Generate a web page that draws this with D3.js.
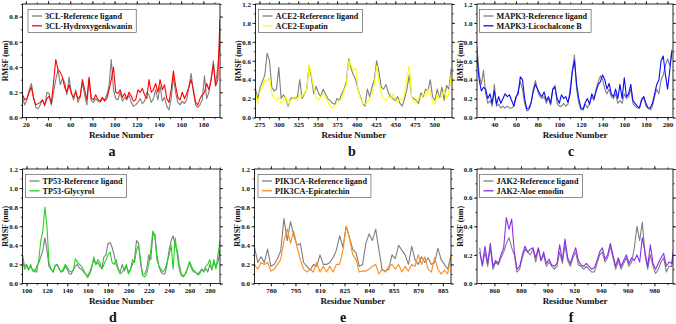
<!DOCTYPE html>
<html>
<head>
<meta charset="utf-8">
<script src="https://cdn.jsdelivr.net/npm/d3@7"></script>
<style>
body { margin: 0; background: #fff; }
svg text { font-family: "Liberation Serif", "Times New Roman", serif; font-weight: bold; fill: #111; }
</style>
</head>
<body>
<svg id="chart" width="676" height="324"></svg>
<script>
//Residue numbering (start, step) and RMSF values

// a - 3CL
const resA = d3.range(17, 196, 2);
const refA = [0.16,0.10,0.14,0.22,0.27,0.16,0.08,0.07,0.10,0.14,
  0.09,0.20,0.19,0.10,0.20,0.30,0.38,0.26,0.31,0.28,
  0.18,0.32,0.20,0.14,0.22,0.12,0.16,0.28,0.18,0.10,
  0.30,0.13,0.12,0.15,0.13,0.12,0.15,0.14,0.18,0.25,
  0.46,0.22,0.15,0.14,0.20,0.13,0.16,0.14,0.18,0.12,
  0.09,0.10,0.12,0.15,0.11,0.13,0.20,0.18,0.12,0.15,
  0.22,0.14,0.25,0.13,0.16,0.09,0.06,0.15,0.32,0.20,
  0.12,0.10,0.13,0.11,0.14,0.25,0.35,0.20,0.10,0.08,
  0.10,0.14,0.33,0.15,0.20,0.30,0.45,0.26,0.40,0.60];
const ligA = [0.18,0.14,0.15,0.20,0.24,0.15,0.10,0.11,0.12,0.14,
  0.10,0.15,0.17,0.11,0.28,0.46,0.38,0.36,0.32,0.24,
  0.20,0.26,0.19,0.16,0.20,0.15,0.17,0.30,0.22,0.14,
  0.32,0.15,0.14,0.18,0.14,0.13,0.16,0.13,0.15,0.22,
  0.30,0.40,0.20,0.19,0.22,0.16,0.19,0.15,0.20,0.17,
  0.13,0.14,0.22,0.20,0.23,0.18,0.15,0.30,0.20,0.22,
  0.27,0.20,0.30,0.22,0.26,0.15,0.12,0.22,0.37,0.25,
  0.16,0.14,0.20,0.15,0.19,0.24,0.30,0.22,0.12,0.10,
  0.15,0.18,0.20,0.27,0.22,0.30,0.42,0.25,0.30,0.78];
const namesA = ["3CL-Reference ligand", "3CL-Hydroxygenkwanin"];
const xTicksA = [20,40,60,80,100,120,140,160,180];

// b - ACE2
const resB = d3.range(270, 523, 3);
const refB = [0.30,0.20,0.32,0.38,0.45,0.68,0.60,0.32,0.28,0.30,
  0.53,0.20,0.24,0.20,0.12,0.20,0.21,0.20,0.22,0.40,
  0.20,0.25,0.30,0.55,0.42,0.25,0.33,0.26,0.22,0.30,
  0.25,0.20,0.18,0.15,0.14,0.20,0.18,0.25,0.30,0.38,
  0.62,0.52,0.45,0.40,0.30,0.22,0.15,0.12,0.30,0.22,
  0.32,0.40,0.60,0.48,0.32,0.30,0.35,0.26,0.22,0.20,
  0.18,0.22,0.15,0.12,0.20,0.30,0.45,0.22,0.20,0.18,
  0.15,0.26,0.22,0.30,0.28,0.40,0.22,0.18,0.30,0.20,
  0.32,0.18,0.34,0.30,0.52];
const ligB = [0.25,0.15,0.28,0.32,0.40,0.38,0.42,0.25,0.20,0.18,
  0.22,0.15,0.18,0.22,0.14,0.18,0.20,0.22,0.18,0.25,
  0.22,0.26,0.30,0.56,0.45,0.30,0.22,0.18,0.22,0.25,
  0.20,0.17,0.12,0.10,0.12,0.15,0.18,0.20,0.28,0.35,
  0.60,0.55,0.50,0.52,0.30,0.20,0.15,0.14,0.16,0.20,
  0.25,0.35,0.55,0.38,0.25,0.20,0.18,0.22,0.20,0.25,
  0.20,0.16,0.20,0.18,0.25,0.42,0.55,0.22,0.16,0.15,
  0.22,0.20,0.25,0.22,0.30,0.28,0.16,0.14,0.25,0.20,
  0.22,0.30,0.20,0.25,0.45];
const namesB = ["ACE2-Reference ligand", "ACE2-Eupatin"];
const xTicksB = [275,300,325,350,375,400,425,450,475,500];

// c - MAPK3
const resC = d3.range(24, 205, 2);
const refC = [0.75,0.45,0.35,0.50,0.25,0.15,0.18,0.12,0.35,0.12,
  0.14,0.10,0.12,0.10,0.12,0.10,0.10,0.12,0.20,0.28,
  0.38,0.30,0.15,0.07,0.08,0.15,0.30,0.39,0.28,0.22,
  0.20,0.22,0.15,0.20,0.13,0.30,0.34,0.15,0.12,0.12,
  0.15,0.12,0.14,0.30,0.50,0.66,0.30,0.15,0.08,0.08,
  0.14,0.10,0.15,0.22,0.18,0.30,0.38,0.44,0.40,0.30,
  0.25,0.30,0.22,0.20,0.25,0.15,0.18,0.15,0.25,0.20,
  0.22,0.30,0.15,0.12,0.10,0.10,0.20,0.22,0.12,0.10,
  0.08,0.12,0.22,0.30,0.25,0.40,0.45,0.55,0.62,0.55,
  0.72];
const ligC = [0.65,0.40,0.28,0.32,0.30,0.20,0.25,0.15,0.28,0.14,
  0.22,0.15,0.20,0.25,0.22,0.24,0.18,0.12,0.22,0.25,
  0.43,0.40,0.20,0.09,0.10,0.16,0.28,0.35,0.30,0.25,
  0.22,0.27,0.18,0.22,0.15,0.30,0.32,0.20,0.15,0.24,
  0.20,0.22,0.16,0.25,0.48,0.60,0.35,0.20,0.10,0.09,
  0.16,0.20,0.14,0.25,0.20,0.28,0.35,0.38,0.45,0.40,
  0.30,0.36,0.25,0.22,0.30,0.20,0.35,0.20,0.42,0.22,
  0.25,0.35,0.18,0.15,0.12,0.10,0.18,0.22,0.15,0.10,
  0.10,0.15,0.25,0.35,0.40,0.60,0.65,0.45,0.30,0.50,
  0.70];
const namesC = ["MAPK3-Reference ligand", "MAPK3-Licochalcone B"];
const xTicksC = [40,60,80,100,120,140,160,180,200];

// d - TP53
const resD = d3.range(96, 291, 2);
const refD = [0.30,0.18,0.20,0.15,0.18,0.14,0.12,0.18,0.22,0.28,
  0.35,0.48,0.35,0.18,0.15,0.12,0.18,0.20,0.16,0.12,
  0.13,0.18,0.15,0.10,0.10,0.15,0.18,0.20,0.16,0.15,
  0.12,0.10,0.08,0.12,0.18,0.25,0.20,0.22,0.18,0.16,
  0.28,0.30,0.42,0.43,0.38,0.30,0.20,0.15,0.12,0.20,
  0.13,0.18,0.12,0.15,0.20,0.25,0.45,0.42,0.20,0.10,
  0.10,0.15,0.30,0.25,0.50,0.52,0.30,0.18,0.12,0.10,
  0.10,0.20,0.35,0.45,0.50,0.40,0.35,0.20,0.10,0.08,
  0.10,0.15,0.22,0.16,0.12,0.12,0.10,0.12,0.15,0.12,
  0.16,0.12,0.20,0.15,0.22,0.18,0.22,0.35];
const ligD = [0.25,0.15,0.18,0.14,0.20,0.13,0.15,0.12,0.25,0.45,
  0.55,0.80,0.60,0.22,0.15,0.12,0.19,0.20,0.15,0.12,
  0.15,0.20,0.17,0.13,0.12,0.14,0.26,0.22,0.20,0.18,
  0.14,0.10,0.06,0.10,0.16,0.28,0.20,0.25,0.22,0.15,
  0.20,0.25,0.30,0.33,0.22,0.20,0.25,0.15,0.10,0.12,
  0.15,0.20,0.10,0.14,0.25,0.22,0.35,0.40,0.25,0.08,
  0.07,0.10,0.20,0.35,0.55,0.50,0.25,0.18,0.15,0.12,
  0.15,0.22,0.30,0.40,0.15,0.48,0.30,0.15,0.08,0.07,
  0.10,0.16,0.23,0.18,0.14,0.12,0.09,0.10,0.15,0.13,
  0.18,0.20,0.25,0.14,0.25,0.15,0.30,0.45];
const namesD = ["TP53-Reference ligand", "TP53-Glycyrol"];
const xTicksD = [100,120,140,160,180,200,220,240,260,280];

// e - PIK3CA
const resE = d3.range(770, 891, 2);
const refE = [0.38,0.22,0.28,0.22,0.36,0.18,0.20,0.26,0.34,0.68,
  0.45,0.65,0.50,0.40,0.42,0.22,0.18,0.14,0.20,0.18,
  0.30,0.20,0.20,0.22,0.27,0.35,0.50,0.38,0.60,0.48,
  0.36,0.32,0.18,0.20,0.42,0.52,0.45,0.57,0.35,0.14,
  0.13,0.15,0.30,0.26,0.40,0.35,0.30,0.20,0.39,0.25,
  0.20,0.28,0.22,0.27,0.20,0.22,0.37,0.25,0.20,0.15,
  0.30];
const ligE = [0.20,0.15,0.22,0.20,0.22,0.13,0.15,0.20,0.25,0.45,
  0.57,0.42,0.55,0.38,0.25,0.15,0.12,0.15,0.12,0.22,
  0.12,0.18,0.12,0.18,0.12,0.20,0.20,0.35,0.60,0.48,
  0.30,0.25,0.12,0.13,0.13,0.15,0.18,0.20,0.10,0.15,
  0.12,0.18,0.20,0.15,0.20,0.12,0.18,0.13,0.20,0.18,
  0.30,0.20,0.28,0.15,0.12,0.27,0.15,0.10,0.14,0.10,
  0.30];
const namesE = ["PIK3CA-Reference ligand", "PIK3CA-Epicatechin"];
const xTicksE = [780,795,810,825,840,855,870,885];

// f - JAK2
const resF = d3.range(849, 996, 2);
const refF = [0.25,0.12,0.22,0.12,0.25,0.10,0.15,0.13,0.18,0.22,
  0.28,0.32,0.25,0.20,0.08,0.10,0.18,0.24,0.22,0.20,
  0.24,0.15,0.24,0.16,0.20,0.12,0.15,0.12,0.10,0.12,
  0.22,0.14,0.27,0.16,0.12,0.18,0.22,0.13,0.12,0.10,
  0.12,0.10,0.08,0.08,0.14,0.20,0.22,0.15,0.18,0.26,
  0.18,0.10,0.16,0.10,0.14,0.18,0.12,0.15,0.25,0.40,
  0.30,0.43,0.20,0.10,0.20,0.12,0.07,0.10,0.15,0.18,
  0.08,0.12,0.12,0.25];
const ligF = [0.22,0.13,0.26,0.14,0.28,0.12,0.16,0.14,0.20,0.25,
  0.46,0.38,0.45,0.22,0.10,0.12,0.20,0.26,0.22,0.24,
  0.25,0.18,0.25,0.16,0.22,0.14,0.17,0.13,0.12,0.14,
  0.27,0.16,0.31,0.18,0.14,0.20,0.25,0.16,0.13,0.12,
  0.14,0.12,0.10,0.11,0.16,0.22,0.25,0.17,0.20,0.28,
  0.20,0.12,0.18,0.12,0.16,0.20,0.14,0.18,0.16,0.20,
  0.15,0.32,0.22,0.12,0.27,0.14,0.10,0.14,0.18,0.21,
  0.12,0.15,0.14,0.28];
const namesF = ["JAK2-Reference ligand", "JAK2-Aloe emodin"];
const xTicksF = [860,880,900,920,940,960,980];

const yTicks12 = [0,0.2,0.4,0.6,0.8,1.0,1.2];
const yTicks08 = [0,0.2,0.4,0.6,0.8];

//Panel layout

const panels = [
  {letter:"a", frame:[22.5,4,220,117.5], xDomain:[17,195], yDomain:[0,0.9], xTicks:xTicksA, yTicks:yTicks08,
   res:resA, ref:refA, lig:ligA, names:namesA, color:"#ff0000", legend:[28,9.5], letterX:112},
  {letter:"b", frame:[255.5,4,452,117.5], xDomain:[270,523], yDomain:[0,1.2], xTicks:xTicksB, yTicks:yTicks12,
   res:resB, ref:refB, lig:ligB, names:namesB, color:"#ffff00", legend:[258.5,9.5], letterX:352},
  {letter:"c", frame:[477,4,673,117.5], xDomain:[24,205], yDomain:[0,1.2], xTicks:xTicksC, yTicks:yTicks12,
   res:resC, ref:refC, lig:ligC, names:namesC, color:"#0a0aff", legend:[479.5,9.5], letterX:571},
  {letter:"d", frame:[22.5,169,220,283.5], xDomain:[96,290], yDomain:[0,1.2], xTicks:xTicksD, yTicks:yTicks12,
   res:resD, ref:refD, lig:ligD, names:namesD, color:"#22d422", legend:[25.5,174.5], letterX:113},
  {letter:"e", frame:[254.5,169,451,283.5], xDomain:[770,890], yDomain:[0,1.2], xTicks:xTicksE, yTicks:yTicks12,
   res:resE, ref:refE, lig:ligE, names:namesE, color:"#ff8c1a", legend:[258,174.5], letterX:343},
  {letter:"f", frame:[477,169,673,283.5], xDomain:[847,994], yDomain:[0,0.8], xTicks:xTicksF, yTicks:yTicks08,
   res:resF, ref:refF, lig:ligF, names:namesF, color:"#8c2cf2", legend:[479.5,174.5], letterX:571}
];

const svg = d3.select("#chart");
const refColor = "#7f7f7f";

function styleAxis(sel, size) {
  sel.select(".domain").remove();
  sel.selectAll("line").attr("stroke", "#111").attr("stroke-width", 0.8);
  sel.selectAll("text")
    .attr("font-family", "Liberation Serif, Times New Roman, serif")
    .attr("font-weight", "bold")
    .attr("font-size", size)
    .attr("fill", "#111");
}

function plotPanel(p) {
  const [x0, y0, x1, y1] = p.frame;
  const g = svg.append("g");

  const x = d3.scaleLinear().domain(p.xDomain).range([x0, x1]);
  const y = d3.scaleLinear().domain(p.yDomain).range([y1, y0]);

  const clipId = "clip-" + p.letter;
  svg.append("clipPath").attr("id", clipId)
    .append("rect").attr("x", x0).attr("y", y0).attr("width", x1 - x0).attr("height", y1 - y0);

  //minor tick positions, half the major spacing
  const xHalf = (p.xTicks[1] - p.xTicks[0]) / 2;
  const xMinor = d3.range(Math.ceil(p.xDomain[0] / xHalf) * xHalf, p.xDomain[1] + 0.001, xHalf);
  const yMinor = d3.range(0, p.yDomain[1] + 0.001, 0.1);

  //bottom
  g.append("g").attr("transform", `translate(0,${y1})`)
    .call(d3.axisBottom(x).tickValues(xMinor).tickSize(1.6).tickFormat(""))
    .call(s => styleAxis(s, 7));
  g.append("g").attr("transform", `translate(0,${y1})`)
    .call(d3.axisBottom(x).tickValues(p.xTicks).tickSize(3).tickPadding(2).tickFormat(d3.format("d")))
    .call(s => styleAxis(s, 7));

  //top
  g.append("g").attr("transform", `translate(0,${y0})`)
    .call(d3.axisTop(x).tickValues(xMinor).tickSize(1.6).tickFormat(""))
    .call(s => styleAxis(s, 7));
  g.append("g").attr("transform", `translate(0,${y0})`)
    .call(d3.axisTop(x).tickValues(p.xTicks).tickSize(3).tickFormat(""))
    .call(s => styleAxis(s, 7));

  //left
  g.append("g").attr("transform", `translate(${x0},0)`)
    .call(d3.axisLeft(y).tickValues(yMinor).tickSize(1.6).tickFormat(""))
    .call(s => styleAxis(s, 7));
  g.append("g").attr("transform", `translate(${x0},0)`)
    .call(d3.axisLeft(y).tickValues(p.yTicks).tickSize(3).tickPadding(1.5).tickFormat(d3.format(".1f")))
    .call(s => styleAxis(s, 7));

  //right
  g.append("g").attr("transform", `translate(${x1},0)`)
    .call(d3.axisRight(y).tickValues(yMinor).tickSize(1.6).tickFormat(""))
    .call(s => styleAxis(s, 7));
  g.append("g").attr("transform", `translate(${x1},0)`)
    .call(d3.axisRight(y).tickValues(p.yTicks).tickSize(3).tickFormat(""))
    .call(s => styleAxis(s, 7));

  //lines
  const line = d3.line().x(d => x(d[0])).y(d => y(d[1]));
  const plot = g.append("g").attr("clip-path", `url(#${clipId})`);
  plot.append("path")
    .datum(d3.zip(p.res, p.ref))
    .attr("fill", "none").attr("stroke", refColor).attr("stroke-width", 1.1)
    .attr("stroke-linejoin", "round")
    .attr("d", line);
  plot.append("path")
    .datum(d3.zip(p.res, p.lig))
    .attr("fill", "none").attr("stroke", p.color).attr("stroke-width", 1.1)
    .attr("stroke-linejoin", "round")
    .attr("d", line);

  //frame
  g.append("rect")
    .attr("x", x0).attr("y", y0).attr("width", x1 - x0).attr("height", y1 - y0)
    .attr("fill", "none").attr("stroke", "#111").attr("stroke-width", 0.9);

  //axis titles
  g.append("text")
    .attr("x", (x0 + x1) / 2).attr("y", y1 + 20)
    .attr("text-anchor", "middle").attr("font-size", 9)
    .text("Residue Number");
  g.append("text")
    .attr("transform", `translate(${x0 - 17},${(y0 + y1) / 2}) rotate(-90)`)
    .attr("text-anchor", "middle").attr("dy", "0.35em").attr("font-size", 8)
    .text("RMSF (nm)");

  //panel letter
  g.append("text")
    .attr("x", p.letterX).attr("y", y1 + 38.5)
    .attr("text-anchor", "middle").attr("font-size", 14)
    .text(p.letter);

  //legend
  const [lx, ly] = p.legend;
  const leg = g.append("g");
  const box = leg.append("rect")
    .attr("x", lx).attr("y", ly).attr("height", 23)
    .attr("fill", "#fff").attr("stroke", "#444").attr("stroke-width", 0.6);
  let maxW = 0;
  [refColor, p.color].forEach((c, i) => {
    const ry = ly + 6.5 + i * 9.8;
    leg.append("line")
      .attr("x1", lx + 4).attr("x2", lx + 14).attr("y1", ry).attr("y2", ry)
      .attr("stroke", c).attr("stroke-width", 1.3);
    const t = leg.append("text")
      .attr("x", lx + 17).attr("y", ry).attr("dy", "0.35em")
      .attr("font-size", 8.2)
      .text(p.names[i]);
    maxW = Math.max(maxW, t.node().getComputedTextLength());
  });
  box.attr("width", maxW + 21);
}

panels.forEach(plotPanel);
</script>
</body>
</html>
